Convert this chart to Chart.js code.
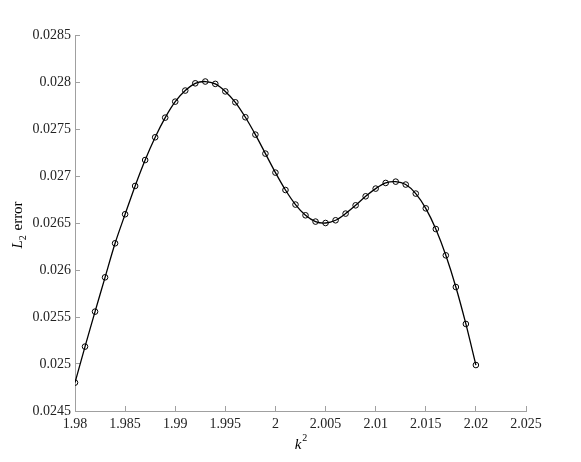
<!DOCTYPE html>
<html>
<head>
<meta charset="utf-8">
<script src="https://cdn.jsdelivr.net/npm/chart.js@4/dist/chart.umd.min.js"></script>
<style>
  html, body { margin: 0; padding: 0; background: #fff; }
  #wrap { width: 581px; height: 462px; position: relative; }
</style>
</head>
<body>
<div id="wrap"><canvas id="errChart"></canvas></div>
<script>
// k^2 sample points and L2 error values
const kSquared = [
  1.980, 1.981, 1.982, 1.983, 1.984, 1.985, 1.986, 1.987, 1.988, 1.989,
  1.990, 1.991, 1.992, 1.993, 1.994, 1.995, 1.996, 1.997, 1.998, 1.999,
  2.000, 2.001, 2.002, 2.003, 2.004, 2.005, 2.006, 2.007, 2.008, 2.009,
  2.010, 2.011, 2.012, 2.013, 2.014, 2.015, 2.016, 2.017, 2.018, 2.019, 2.020
];
const l2Error = [
  0.024802, 0.025185, 0.025557, 0.025922, 0.026284, 0.026593, 0.026894, 0.027170, 0.027412, 0.027621,
  0.027791, 0.027909, 0.027986, 0.028005, 0.027980, 0.027900, 0.027784, 0.027625, 0.027440, 0.027238,
  0.027036, 0.026851, 0.026696, 0.026582, 0.026515, 0.026500, 0.026529, 0.026600, 0.026688, 0.026784,
  0.026866, 0.026926, 0.026940, 0.026909, 0.026813, 0.026656, 0.026436, 0.026156, 0.025819, 0.025426, 0.024989
];

// axis ticks
const xTicks = [1.98, 1.985, 1.99, 1.995, 2, 2.005, 2.01, 2.015, 2.02, 2.025];
const yTicks = [0.0245, 0.025, 0.0255, 0.026, 0.0265, 0.027, 0.0275, 0.028, 0.0285];

const serif = '"Liberation Serif", "Times New Roman", serif';
const axisGray = '#a0a0a0';

// draws the axis titles with italic letters and sub/superscripts
const axisTitles = {
  id: 'axisTitles',
  afterDraw(chart) {
    const { ctx, chartArea } = chart;
    ctx.save();
    ctx.fillStyle = '#000';
    ctx.textBaseline = 'alphabetic';

    // x title: k^2
    const cx = (chartArea.left + chartArea.right) / 2;
    ctx.font = 'italic 15px ' + serif;
    const kw = ctx.measureText('k').width;
    ctx.font = '10px ' + serif;
    const sw = ctx.measureText('2').width;
    let x0 = cx - (kw + sw) / 2;
    ctx.font = 'italic 15px ' + serif;
    ctx.fillText('k', x0, 449);
    ctx.font = '10px ' + serif;
    ctx.fillText('2', x0 + kw + 1, 441);

    // y title: L_2 error (rotated)
    const cy = (chartArea.top + chartArea.bottom) / 2 + 2;
    ctx.translate(22, cy);
    ctx.rotate(-Math.PI / 2);
    ctx.font = 'italic 15px ' + serif;
    const lw = ctx.measureText('L').width;
    ctx.font = '15px ' + serif;
    const ew = ctx.measureText(' error').width;
    const total = lw + sw + 1 + ew;
    let px = -total / 2;
    ctx.font = 'italic 15px ' + serif;
    ctx.fillText('L', px, 0);
    px += lw;
    ctx.font = '10px ' + serif;
    ctx.fillText('2', px, 4);
    px += sw + 1;
    ctx.font = '15px ' + serif;
    ctx.fillText(' error', px, 0);
    ctx.restore();
  }
};

new Chart(document.getElementById('errChart'), {
  type: 'line',
  data: {
    datasets: [{
      data: kSquared.map((k, i) => ({ x: k, y: l2Error[i] })),
      borderColor: '#000',
      borderWidth: 1.3,
      tension: 0.3,
      pointRadius: 2.8,
      pointBorderWidth: 1,
      pointBorderColor: '#000',
      pointBackgroundColor: 'rgba(0,0,0,0)',
      fill: false
    }]
  },
  options: {
    responsive: true,
    maintainAspectRatio: false,
    animation: false,
    events: [],
    layout: { padding: { left: 0, top: 35, right: 55, bottom: 0 } },
    plugins: {
      legend: { display: false },
      tooltip: { enabled: false }
    },
    scales: {
      x: {
        type: 'linear',
        min: 1.98,
        max: 2.025,
        afterBuildTicks: (scale) => { scale.ticks = xTicks.map(v => ({ value: v })); },
        afterFit: (scale) => { scale.height = 51; },
        border: { display: true, color: axisGray, width: 1 },
        grid: { drawOnChartArea: false, drawTicks: true, tickLength: -5, color: axisGray },
        ticks: {
          color: '#222',
          padding: 10,
          maxRotation: 0,
          autoSkip: false,
          font: { family: serif, size: 14 },
          callback: (v) => String(Number(v.toFixed(3)))
        }
      },
      y: {
        type: 'linear',
        min: 0.0245,
        max: 0.0285,
        afterBuildTicks: (scale) => { scale.ticks = yTicks.map(v => ({ value: v })); },
        afterFit: (scale) => { scale.width = 75; },
        border: { display: true, color: axisGray, width: 1 },
        grid: { drawOnChartArea: false, drawTicks: true, tickLength: -5, color: axisGray },
        ticks: {
          color: '#222',
          padding: 9,
          autoSkip: false,
          font: { family: serif, size: 14 },
          callback: (v) => String(Number(v.toFixed(4)))
        }
      }
    }
  },
  plugins: [axisTitles]
});
</script>
</body>
</html>
